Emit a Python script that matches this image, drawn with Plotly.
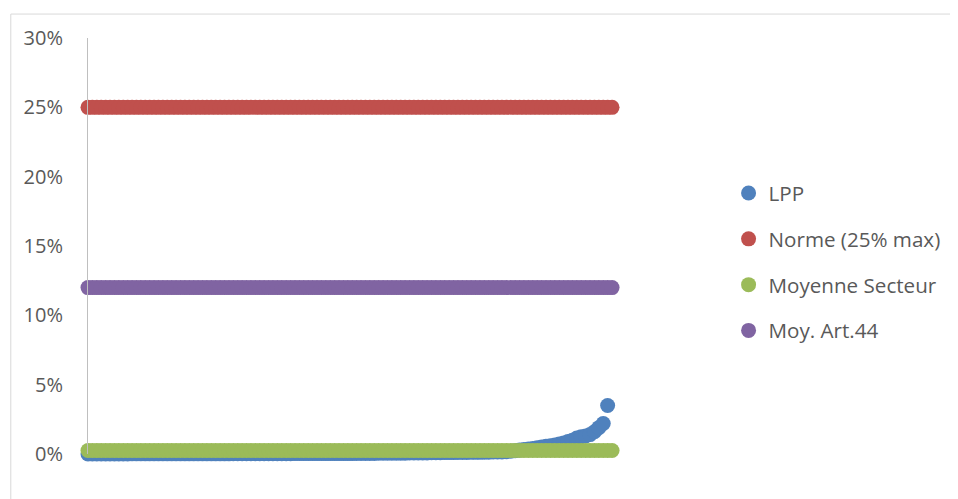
import plotly.graph_objects as go

# ---- data ----
n_points = 120
x_lines = list(range(1, n_points + 1))

lpp_values = [
    0.0000, 0.0000, 0.0000, 0.0000, 0.0000, 0.0000, 0.0000, 0.0000, 0.0000, 0.0000,
    0.0001, 0.0001, 0.0001, 0.0001, 0.0001, 0.0001, 0.0001, 0.0001, 0.0001, 0.0001,
    0.0001, 0.0001, 0.0001, 0.0001, 0.0001, 0.0001, 0.0001, 0.0001, 0.0001, 0.0001,
    0.0001, 0.0001, 0.0001, 0.0002, 0.0002, 0.0002, 0.0002, 0.0002, 0.0002, 0.0002,
    0.0002, 0.0002, 0.0002, 0.0002, 0.0002, 0.0002, 0.0002, 0.0003, 0.0003, 0.0003,
    0.0003, 0.0003, 0.0003, 0.0003, 0.0003, 0.0003, 0.0003, 0.0003, 0.0003, 0.0003,
    0.0003, 0.0004, 0.0004, 0.0004, 0.0004, 0.0004, 0.0005, 0.0005, 0.0005, 0.0005,
    0.0006, 0.0006, 0.0006, 0.0007, 0.0007, 0.0007, 0.0008, 0.0008, 0.0009, 0.0009,
    0.0009, 0.0010, 0.0010, 0.0010, 0.0011, 0.0011, 0.0011, 0.0012, 0.0012, 0.0012,
    0.0013, 0.0013, 0.0014, 0.0014, 0.0015, 0.0016, 0.0020, 0.0024, 0.0028, 0.0032,
    0.0036, 0.0040, 0.0045, 0.0050, 0.0055, 0.0060, 0.0065, 0.0072, 0.0080, 0.0090,
    0.0100, 0.0115, 0.0125, 0.0130, 0.0140, 0.0160, 0.0190, 0.0220, 0.0350,
]
x_lpp = list(range(1, len(lpp_values) + 1))

norme_value = 0.25
secteur_value = 0.0025
art44_value = 0.12

norme = [norme_value] * n_points
secteur = [secteur_value] * n_points
art44 = [art44_value] * n_points

y_ticks = [0, 0.05, 0.10, 0.15, 0.20, 0.25, 0.30]

# ---- figure geometry (page pixels; the page body has an 8px margin) ----
OFF = 8
PAGE_W, PAGE_H = 958, 499
W, H = PAGE_W - OFF, PAGE_H - OFF
plot_left, plot_right = 88, 618
plot_top, plot_bottom = 37.5, 454.5
ml = plot_left - OFF
mt = plot_top - OFF
mr = PAGE_W - plot_right
mb = PAGE_H - plot_bottom
pw = plot_right - plot_left
ph = plot_bottom - plot_top

font_family = "Open Sans"
txt_color = "#595959"
msize = 15

fig = go.Figure()
series = [
    ("LPP", x_lpp, lpp_values, "#4F81BD"),
    ("Norme (25% max)", x_lines, norme, "#C0504D"),
    ("Moyenne Secteur", x_lines, secteur, "#9BBB59"),
    ("Moy. Art.44", x_lines, art44, "#8064A2"),
]
for name, xs, ys, col in series:
    fig.add_trace(go.Scatter(
        x=xs, y=ys, mode="markers", name=name, legendgroup=name,
        marker=dict(size=msize, color=col, line=dict(width=0)),
        cliponaxis=False, hoverinfo="skip",
    ))


def px_to_paper_x(px):
    return (px - plot_left) / pw


def px_to_paper_y(py):
    return (plot_bottom - py) / ph


# outer chart border
fig.add_shape(type="rect", xref="paper", yref="paper",
              x0=px_to_paper_x(10.5), x1=px_to_paper_x(1000),
              y0=px_to_paper_y(560), y1=px_to_paper_y(13.5),
              line=dict(color="#d9d9d9", width=1), layer="below")

fig.update_layout(
    width=W, height=H,
    margin=dict(l=ml, r=mr, t=mt, b=mb, pad=0),
    paper_bgcolor="white", plot_bgcolor="white",
    font=dict(family=font_family, size=20, color=txt_color),
    showlegend=True,
    legend=dict(
        x=px_to_paper_x(731), y=px_to_paper_y(173), xanchor="left", yanchor="top",
        font=dict(family=font_family, size=20.6, color=txt_color),
        tracegroupgap=16, traceorder="grouped", itemwidth=30,
        bgcolor="rgba(0,0,0,0)",
    ),
    xaxis=dict(range=[1, 120.9], showgrid=False, zeroline=False, showline=False,
               showticklabels=False, ticks="", fixedrange=True),
    yaxis=dict(range=[0, 0.30], tickvals=y_ticks, tickformat=".0%",
               showgrid=False, zeroline=False, showline=True,
               linecolor="#bfbfbf", linewidth=1, ticks="",
               ticklabelstandoff=20, fixedrange=True),
)

fig.write_html("out.html")
